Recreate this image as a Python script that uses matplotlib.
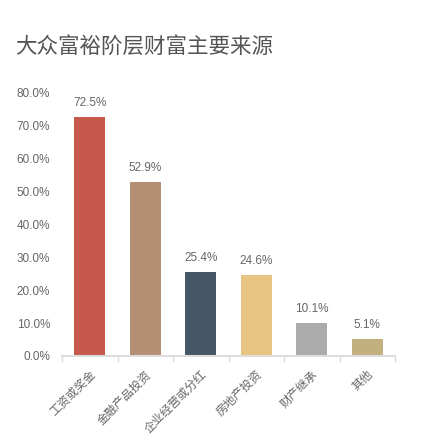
import matplotlib.pyplot as plt
import numpy as np

plt.rcParams['font.family'] = ['Liberation Sans', 'Noto Sans CJK SC', 'DejaVu Sans']

title = "大众富裕阶层财富主要来源"
categories = ["工资或奖金", "金融产品投资", "企业经营或分红", "房地产投资", "财产继承", "其他"]
values = [72.5, 52.9, 25.4, 24.6, 10.1, 5.1]
colors = ["#C7584C", "#B58F74", "#455667", "#E8C483", "#ABABAB", "#C3B07F"]
yticks = [0, 10, 20, 30, 40, 50, 60, 70, 80]

fig = plt.figure(figsize=(4.29, 4.37), dpi=100)
ax = fig.add_axes([0.1445, 0.1854, 0.7765, 0.6036])

x = np.arange(len(categories))
ax.bar(x, values, width=0.56, color=colors)
for xi, v in zip(x, values):
    ax.text(xi, v + 2.4, f"{v:.1f}%", ha='center', va='bottom', fontsize=8.5, color='#666666')

ax.set_xlim(-0.5, len(categories) - 0.5)
ax.set_ylim(0, 80)
ax.set_yticks(yticks)
ax.set_yticklabels([f"{t:.1f}%" for t in yticks], fontsize=8.5, color='#666666')
ax.tick_params(axis='y', length=0, pad=8.5)

ax.set_xticks(x)
ax.set_xticklabels(categories, rotation=45, ha='right', rotation_mode='anchor',
                   fontsize=8.5, color='#666666')
ax.tick_params(axis='x', length=0, pad=9)
ax.set_xticks(np.arange(-0.5, len(categories)), minor=True)
ax.tick_params(axis='x', which='minor', length=4, color='#DDDDDD', width=1)

for s in ['top', 'right', 'left']:
    ax.spines[s].set_visible(False)
ax.spines['bottom'].set_color('#DDDDDD')
ax.spines['bottom'].set_linewidth(1.5)

fig.text(15 / 429, 1 - 47 / 437, title, fontsize=15.5, color='#555555', va='center', ha='left')

fig.savefig("out.png", dpi=100)
